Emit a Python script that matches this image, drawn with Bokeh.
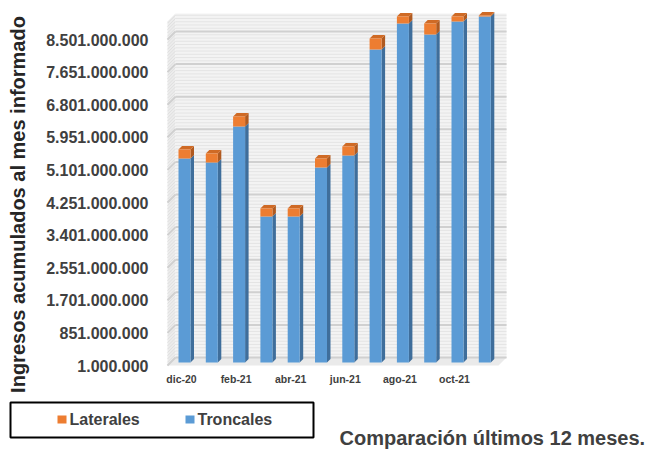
import numpy as np
from bokeh.plotting import figure
from bokeh.models import Range1d, FixedTicker
from bokeh.core.properties import value
from bokeh.embed import file_html
from bokeh.resources import INLINE

# ---------------- data ----------------
months = ["dic-20", "ene-21", "feb-21", "mar-21", "abr-21", "may-21",
          "jun-21", "jul-21", "ago-21", "sep-21", "oct-21", "nov-21"]
troncales = [5_320_000_000, 5_215_000_000, 6_153_000_000, 3_807_000_000,
             3_807_000_000, 5_085_000_000, 5_397_000_000, 8_161_000_000,
             8_839_000_000, 8_552_000_000, 8_891_000_000, 9_021_000_000]
laterales = [235_000_000, 235_000_000, 261_000_000, 209_000_000,
             209_000_000, 234_000_000, 235_000_000, 287_000_000,
             182_000_000, 287_000_000, 130_000_000, 26_000_000]
y_ticks = [1_000_000, 851_000_000, 1_701_000_000, 2_551_000_000,
           3_401_000_000, 4_251_000_000, 5_101_000_000, 5_951_000_000,
           6_801_000_000, 7_651_000_000, 8_501_000_000]
y_tick_labels = ["1.000.000", "851.000.000", "1.701.000.000", "2.551.000.000",
                 "3.401.000.000", "4.251.000.000", "5.101.000.000",
                 "5.951.000.000", "6.801.000.000", "7.651.000.000",
                 "8.501.000.000"]
x_tick_idx = [0, 2, 4, 6, 8, 10]
series_names = ["Laterales", "Troncales"]
y_title = "Ingresos acumulados al mes informado"
caption = "Comparación últimos 12 meses."

# ---------------- pixel <-> data helpers (layout only) ----------------
WIDTH, HEIGHT = 658, 453
PXX = 1 / 27.3            # x data units per pixel
PXY = 850_000_000 / 32.6  # y data units per pixel
X_ORIGIN_PX = 181         # pixel column of the first category (floor front)
Y0 = y_ticks[0]
Y_ORIGIN_PX = 365         # pixel row of the axis minimum (floor front)


def px(xp):
    return (xp - X_ORIGIN_PX) * PXX


def py(yp):
    return Y0 + (Y_ORIGIN_PX - yp) * PXY


idx = np.arange(len(months))
tron = np.array(troncales, dtype=float)
total = tron + np.array(laterales, dtype=float)

BLUE, BLUE_SIDE = "#5b9bd5", "#3f6e9b"
ORANGE, ORANGE_SIDE, ORANGE_TOP = "#ed7d31", "#b05a20", "#cf6a25"
FONT = "Liberation Sans"

p = figure(width=WIDTH, height=HEIGHT, output_backend="svg",
           toolbar_location=None,
           x_range=Range1d(px(0), px(WIDTH)),
           y_range=Range1d(py(HEIGHT), py(0)), min_border=0)
# bars sit half a depth behind the floor front: 3 px right and 3 px up
p.extra_x_ranges = {"bars": Range1d(px(-3), px(WIDTH - 3))}
p.extra_y_ranges = {"bars": Range1d(py(HEIGHT + 3), py(3))}
p.outline_line_color = None
p.xgrid.visible = False
p.ygrid.visible = False

# ---------------- 3D walls ----------------
D = 8
WL_F, WL_B, WR = px(167), px(175), px(506)
TOP = py(13)
p.patch([WL_F, WL_B, WL_B, WL_F], [Y0, Y0 + D * PXY, TOP, TOP - D * PXY],
        fill_color="#ececec", line_color=None)
p.quad(left=WL_B, right=WR, bottom=Y0 + D * PXY, top=TOP,
       fill_color="#f3f3f3", line_color=None)
p.patch([WL_F, WR - D * PXX, WR, WL_B], [Y0, Y0, Y0 + D * PXY, Y0 + D * PXY],
        fill_color="#eaeaea", line_color=None)

minor = np.arange(Y0, TOP - D * PXY, 85_000_000)
p.segment(x0=WL_B, y0=minor + D * PXY, x1=WR, y1=minor + D * PXY,
          line_color="#e4e4e4", line_width=1)
p.segment(x0=WL_F, y0=minor, x1=WL_B, y1=minor + D * PXY,
          line_color="#e0e0e0", line_width=1)
yt = np.array(y_ticks, dtype=float)
p.segment(x0=WL_B, y0=yt + D * PXY, x1=WR, y1=yt + D * PXY,
          line_color="#d0d0d0", line_width=2)
p.segment(x0=WL_F, y0=yt, x1=WL_B, y1=yt + D * PXY,
          line_color="#d0d0d0", line_width=2)

# ---------------- 3D bars ----------------
W = 12 * PXX
d = 3.5 * PXX
dy = 3.5 * PXY
kw = dict(x_range_name="bars", y_range_name="bars")


def side(bottom, top):
    xs = [[i + W / 2, i + W / 2 + d, i + W / 2 + d, i + W / 2] for i in idx]
    ys = [[b, b + dy, tt + dy, tt] for b, tt in zip(bottom, top)]
    return xs, ys


xs, ys = side(np.full(len(idx), Y0), tron)
p.patches(xs, ys, fill_color=BLUE_SIDE, line_color=None, **kw)
xs, ys = side(tron, total)
p.patches(xs, ys, fill_color=ORANGE_SIDE, line_color=None, **kw)
top_xs = [[i - W / 2, i + W / 2, i + W / 2 + d, i - W / 2 + d] for i in idx]
top_ys = [[tt, tt, tt + dy, tt + dy] for tt in total]
p.patches(top_xs, top_ys, fill_color=ORANGE_TOP, line_color=None, **kw)
p.vbar(x=idx, bottom=Y0, top=tron, width=W, fill_color=BLUE,
       line_color=None, **kw)
p.vbar(x=idx, bottom=tron, top=total, width=W, fill_color=ORANGE,
       line_color=None, **kw)

# ---------------- axes (fixed inside the canvas) ----------------
p.yaxis.fixed_location = px(160)
p.xaxis.fixed_location = py(368)
p.yaxis.ticker = FixedTicker(ticks=y_ticks)
p.yaxis.major_label_overrides = dict(zip(y_ticks, y_tick_labels))
p.xaxis.ticker = FixedTicker(ticks=x_tick_idx)
p.xaxis.major_label_overrides = {i: months[i] for i in x_tick_idx}
for ax in (p.xaxis, p.yaxis):
    ax.axis_line_color = None
    ax.major_tick_line_color = None
    ax.minor_tick_line_color = None
    ax.major_tick_out = 0
    ax.major_tick_in = 0
    ax.minor_tick_out = 0
    ax.major_label_text_font = FONT
    ax.major_label_text_font_style = "bold"
    ax.major_label_text_color = "#404040"
p.yaxis.major_label_text_font_size = "16px"
p.yaxis.major_label_standoff = 12
p.xaxis.major_label_text_font_size = "10.5px"
p.xaxis.major_label_standoff = 4

# ---------------- vertical title ----------------
p.text(x=[px(17)], y=[py(204)], text=[y_title], angle=np.pi / 2,
       text_align="center", text_baseline="middle", text_font=value(FONT),
       text_font_style="bold", text_font_size="20px", text_color="#262626")

# ---------------- legend + caption ----------------
p.quad(left=[px(10)], right=[px(313)], bottom=[py(437)], top=[py(402)],
       fill_color=None, line_color="black", line_width=2)
p.quad(left=[px(57), px(185)], right=[px(66), px(194)],
       bottom=[py(423), py(423)], top=[py(415), py(415)],
       fill_color=[ORANGE, BLUE], line_color=None)
p.text(x=[px(69), px(197)], y=[py(419), py(419)], text=series_names,
       text_align="left", text_baseline="middle", text_font=value(FONT),
       text_font_style="bold", text_font_size="16px", text_color="#404040")
p.text(x=[px(339)], y=[py(437)], text=[caption], text_align="left",
       text_baseline="middle", text_font=value(FONT), text_font_style="bold",
       text_font_size="20px", text_color="#404040")

open("out.html", "w").write(file_html(p, INLINE))
